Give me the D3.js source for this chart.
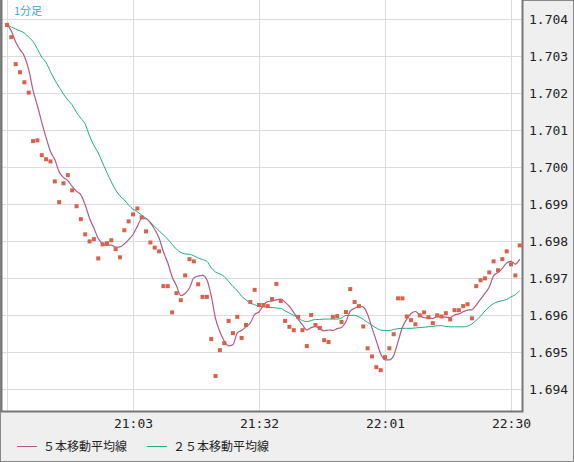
<!DOCTYPE html>
<html><head><meta charset="utf-8">
<script src="https://cdn.jsdelivr.net/npm/d3@7"></script>
<style>body{margin:0;background:#efefef;} svg{display:block;}</style>
</head><body><svg id="chart"></svg>
<script>
const times = ["21:03", "21:32", "22:01", "22:30"];
const tickIdx = [29, 58, 87, 116];
const yTicks = [1.694, 1.695, 1.696, 1.697, 1.698, 1.699, 1.700, 1.701, 1.702, 1.703, 1.704];

const price = [1.70384,1.70351,1.70278,1.70256,1.70229,1.70201,1.70070,1.70072,1.70032,1.70021,
1.70015,1.69961,1.69905,1.69956,1.69978,1.69937,1.69894,1.69859,1.69818,1.69799,
1.69805,1.69753,1.69791,1.69794,1.69802,1.69778,1.69756,1.69829,1.69853,1.69872,
1.69888,1.69864,1.69826,1.69796,1.69782,1.69772,1.69678,1.69678,1.69607,1.69659,
1.69640,1.69707,1.69751,1.69745,1.69683,1.69649,1.69649,1.69535,1.69435,1.69505,
1.69524,1.69584,1.69551,1.69595,1.69538,1.69573,1.69635,1.69668,1.69627,1.69627,
1.69624,1.69643,1.69684,1.69638,1.69584,1.69568,1.69559,1.69595,1.69559,1.69516,
1.69600,1.69573,1.69565,1.69532,1.69527,1.69595,1.69597,1.69581,1.69608,1.69670,
1.69635,1.69624,1.69569,1.69510,1.69488,1.69459,1.69451,1.69486,1.69510,1.69548,
1.69645,1.69645,1.69596,1.69586,1.69575,1.69599,1.69607,1.69594,1.69578,1.69599,
1.69596,1.69605,1.69588,1.69613,1.69613,1.69624,1.69629,1.69591,1.69678,1.69694,
1.69699,1.69715,1.69745,1.69721,1.69751,1.69772,1.69737,1.69707,1.69788];

const ma25 = [1.70385,1.70378,1.70373,1.70368,1.70362,1.70351,1.70339,1.70319,1.70297,1.70282,
1.70258,1.70235,1.70216,1.70197,1.70181,1.70168,1.70147,1.70132,1.70116,1.70084,
1.70058,1.70038,1.70011,1.69985,1.69960,1.69938,1.69922,1.69911,1.69897,1.69886,
1.69879,1.69870,1.69861,1.69851,1.69839,1.69828,1.69816,1.69805,1.69791,1.69778,
1.69769,1.69765,1.69764,1.69760,1.69754,1.69750,1.69745,1.69728,1.69716,1.69711,
1.69704,1.69691,1.69677,1.69666,1.69651,1.69641,1.69632,1.69628,1.69623,1.69622,
1.69621,1.69620,1.69619,1.69618,1.69611,1.69605,1.69599,1.69591,1.69585,1.69582,
1.69585,1.69588,1.69588,1.69589,1.69589,1.69589,1.69589,1.69592,1.69599,1.69599,
1.69599,1.69595,1.69588,1.69580,1.69572,1.69565,1.69559,1.69558,1.69558,1.69561,
1.69563,1.69564,1.69564,1.69564,1.69565,1.69566,1.69567,1.69568,1.69569,1.69571,
1.69571,1.69569,1.69568,1.69568,1.69568,1.69568,1.69570,1.69576,1.69586,1.69597,
1.69611,1.69622,1.69631,1.69636,1.69639,1.69642,1.69649,1.69655,1.69666];

// 5-period moving average of the price series
const ma5 = price.map((v, i) => d3.mean(price.slice(Math.max(0, i - 4), i + 1)));

const W = 574, H = 462;
const svg = d3.select("#chart").attr("width", W).attr("height", H);

const x = d3.scaleLinear().domain([0, 118]).range([7, 519.7]);
const y = d3.scaleLinear().domain([1.694, 1.704]).range([389, 19]);

svg.append("rect").attr("x", 0.5).attr("y", 0.5).attr("width", W - 1).attr("height", H - 1)
    .attr("fill", "#efefef").attr("stroke", "#888");
svg.append("rect").attr("x", 1).attr("y", 0).attr("width", 522).attr("height", 412)
    .attr("fill", "#fff");

const grid = svg.append("g").attr("stroke", "#dcdcdc").attr("stroke-width", 1);
grid.selectAll(".h").data(yTicks).enter().append("line")
    .attr("x1", 1).attr("x2", 523)
    .attr("y1", d => Math.round(y(d)) + 0.5).attr("y2", d => Math.round(y(d)) + 0.5);
grid.selectAll(".v").data([0].concat(tickIdx)).enter().append("line")
    .attr("y1", 0).attr("y2", 412)
    .attr("x1", d => Math.round(x(d)) + 0.5).attr("x2", d => Math.round(x(d)) + 0.5);

svg.append("path").attr("d", "M1.5,0 V411.5 H522.5 V0")
    .attr("fill", "none").attr("stroke", "#777").attr("stroke-width", 2);

svg.append("text").attr("x", 14).attr("y", 15).text("1分足")
    .attr("fill", "#33aadd").attr("font-size", 11).attr("font-family", "Noto Sans CJK JP");

const line = d3.line().x((d, i) => x(i)).y(d => y(d)).curve(d3.curveMonotoneX);
svg.append("path").datum(ma25).attr("d", line)
    .attr("fill", "none").attr("stroke", "#1fae7e").attr("stroke-width", 1);
svg.append("path").datum(ma5).attr("d", line)
    .attr("fill", "none").attr("stroke", "#b05a88").attr("stroke-width", 1.2);

svg.selectAll(".pt").data(price).enter().append("rect")
    .attr("x", (d, i) => x(i) - 2).attr("y", d => y(d) - 2)
    .attr("width", 4).attr("height", 4).attr("fill", "#d9604a");

const axisR = d3.axisRight(y).tickValues(yTicks).tickSize(0).tickPadding(6)
    .tickFormat(d3.format(".3f"));
const ay = svg.append("g").attr("transform", "translate(523,0)").call(axisR);
ay.select(".domain").remove();
ay.selectAll("text").attr("font-family", "DejaVu Sans Mono").attr("font-size", 13).attr("fill", "#222");

const axisB = d3.axisBottom(x).tickValues(tickIdx).tickSize(0).tickPadding(7)
    .tickFormat((d, i) => times[i]);
const ax = svg.append("g").attr("transform", "translate(0,412)").call(axisB);
ax.select(".domain").remove();
ax.selectAll("text").attr("font-family", "DejaVu Sans Mono").attr("font-size", 13).attr("fill", "#222");

const legend = [
    { label: "５本移動平均線", color: "#b05a88", x: 17 },
    { label: "２５本移動平均線", color: "#1fae7e", x: 147 }
];
const lg = svg.selectAll(".lg").data(legend).enter().append("g");
lg.append("line").attr("x1", d => d.x).attr("x2", d => d.x + 20)
    .attr("y1", 446.5).attr("y2", 446.5).attr("stroke", d => d.color);
lg.append("text").attr("x", d => d.x + 26).attr("y", 451).text(d => d.label)
    .attr("font-size", 12).attr("font-family", "Noto Sans CJK JP").attr("fill", "#222");
</script></body></html>
